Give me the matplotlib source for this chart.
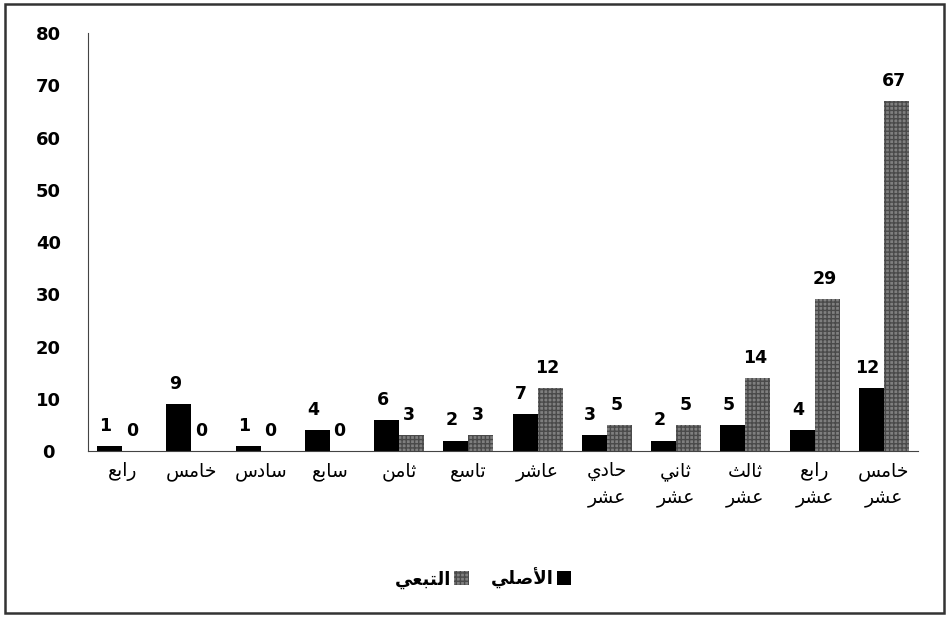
import numpy as np
from matplotlib import pyplot as plt
from matplotlib.patches import Rectangle, Patch

categories = ['رابع', 'خامس', 'سادس', 'سابع', 'ثامن', 'تاسع', 'عاشر',
              'حادي\nعشر', 'ثاني\nعشر', 'ثالث\nعشر', 'رابع\nعشر', 'خامس\nعشر']
original = [1, 9, 1, 4, 6, 2, 7, 3, 2, 5, 4, 12]
dependent = [0, 0, 0, 0, 3, 3, 12, 5, 5, 14, 29, 67]
series_names = ['الأصلي', 'التبعي']
yticks = [0, 10, 20, 30, 40, 50, 60, 70, 80]

# Arabic presentation forms: (isolated, final, initial, medial)
FORMS = {
    'ا': (0xFE8D, 0xFE8E), 'أ': (0xFE83, 0xFE84),
    'ب': (0xFE8F, 0xFE90, 0xFE91, 0xFE92), 'ت': (0xFE95, 0xFE96, 0xFE97, 0xFE98),
    'ث': (0xFE99, 0xFE9A, 0xFE9B, 0xFE9C), 'ح': (0xFEA1, 0xFEA2, 0xFEA3, 0xFEA4),
    'خ': (0xFEA5, 0xFEA6, 0xFEA7, 0xFEA8), 'د': (0xFEA9, 0xFEAA),
    'ر': (0xFEAD, 0xFEAE), 'س': (0xFEB1, 0xFEB2, 0xFEB3, 0xFEB4),
    'ش': (0xFEB5, 0xFEB6, 0xFEB7, 0xFEB8), 'ص': (0xFEB9, 0xFEBA, 0xFEBB, 0xFEBC),
    'ع': (0xFEC9, 0xFECA, 0xFECB, 0xFECC), 'ل': (0xFEDD, 0xFEDE, 0xFEDF, 0xFEE0),
    'م': (0xFEE1, 0xFEE2, 0xFEE3, 0xFEE4), 'ن': (0xFEE5, 0xFEE6, 0xFEE7, 0xFEE8),
    'ي': (0xFEF1, 0xFEF2, 0xFEF3, 0xFEF4),
}
LAM_ALEF = {'ا': (0xFEFB, 0xFEFC), 'أ': (0xFEF7, 0xFEF8)}


def shape_line(text):
    out = []
    i = 0
    n = len(text)
    while i < n:
        c = text[i]
        if c not in FORMS:
            out.append(c)
            i += 1
            continue
        prev = text[i - 1] if i > 0 else ''
        joins_prev = prev in FORMS and len(FORMS[prev]) == 4
        if c == 'ل' and i + 1 < n and text[i + 1] in LAM_ALEF:
            lig = LAM_ALEF[text[i + 1]]
            out.append(chr(lig[1] if joins_prev else lig[0]))
            i += 2
            continue
        nxt = text[i + 1] if i + 1 < n else ''
        joins_next = len(FORMS[c]) == 4 and nxt in FORMS
        f = FORMS[c]
        if joins_prev and joins_next:
            ch = f[3]
        elif joins_next:
            ch = f[2]
        elif joins_prev:
            ch = f[1]
        else:
            ch = f[0]
        out.append(chr(ch))
        i += 1
    return ''.join(reversed(out))


def shape(text):
    return '\n'.join(shape_line(t) for t in text.split('\n'))


plt.rcParams['font.family'] = ['DejaVu Sans']

fig = plt.figure(figsize=(9.47, 6.17), dpi=100)
ax = fig.add_axes([0.0924, 0.269, 0.8775, 0.6775])

x = np.arange(len(categories))
w = 0.36
grey = '#7f7f7f'
b1 = ax.bar(x - w / 2, original, w, color='black', linewidth=0)
b2 = ax.bar(x + w / 2, dependent, w, color=grey, edgecolor='#4a4a4a',
            hatch='++++', linewidth=0)

for rect, v in zip(b1, original):
    ax.annotate(str(v), (rect.get_x() + rect.get_width() / 2, v),
                xytext=(-3, 8), textcoords='offset points', ha='center',
                va='bottom', fontsize=12.5, fontweight='bold')
for rect, v in zip(b2, dependent):
    ax.annotate(str(v), (rect.get_x() + rect.get_width() / 2, v),
                xytext=(-2, 8), textcoords='offset points', ha='center',
                va='bottom', fontsize=12.5, fontweight='bold')

ax.set_xlim(-0.5, len(categories) - 0.5)
ax.set_ylim(0, 80)
ax.set_yticks(yticks)
ax.set_yticklabels([str(t) for t in yticks], fontsize=13, fontweight='bold')
ax.set_xticks(x)
ax.set_xticklabels([shape(c) for c in categories], fontsize=13.5, linespacing=1.5)
ax.tick_params(axis='both', length=0)
ax.tick_params(axis='x', pad=8)
ax.tick_params(axis='y', pad=28)
for lbl in ax.get_yticklabels():
    lbl.set_horizontalalignment('center')

ax.spines['top'].set_visible(False)
ax.spines['right'].set_visible(False)
ax.spines['left'].set_color('#444444')
ax.spines['bottom'].set_color('#444444')

handles = [Patch(facecolor=grey, edgecolor='#4a4a4a', hatch='++++', linewidth=0),
           Patch(facecolor='black')]
fig.legend(handles, [shape(series_names[1]), shape(series_names[0])],
           loc='center', bbox_to_anchor=(0.51, 0.063), ncol=2, frameon=False,
           markerfirst=False, prop={'size': 13, 'weight': 'bold'},
           handlelength=0.8, handleheight=0.8,
           handletextpad=0.2, columnspacing=1.2)

fig.add_artist(Rectangle((0.005, 0.006), 0.992, 0.987, transform=fig.transFigure,
                         fill=False, edgecolor='#333333', linewidth=1.8))

fig.savefig('out.png', dpi=100)
